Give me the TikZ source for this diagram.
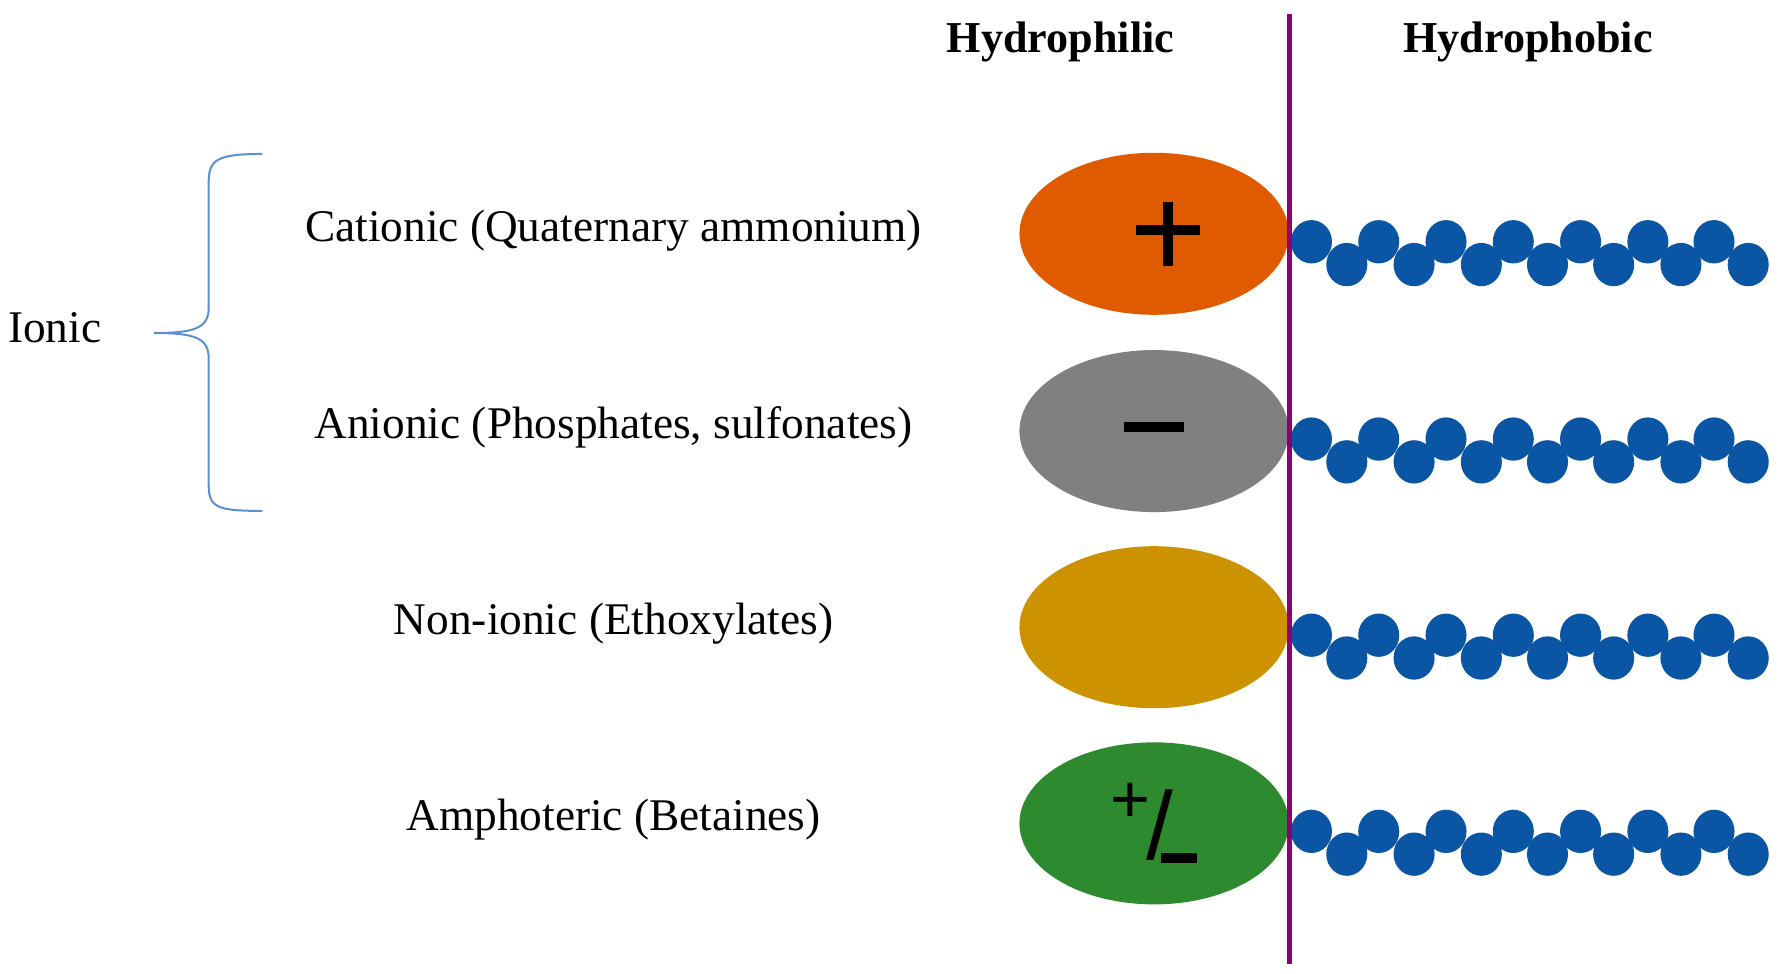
\documentclass[tikz,border=0pt]{standalone}
\usepackage{fontspec}
\setmainfont{Liberation Serif}
\newfontfamily\symf{Liberation Sans}
\begin{document}
\begin{tikzpicture}[x=0.01cm,y=-0.01cm,
  lab/.style={font=\fontsize{11.3}{13}\selectfont},
  head/.style={font=\bfseries\fontsize{11}{13}\selectfont},
  blob/.style={ellipse,minimum width=2.36cm,minimum height=1.42cm,inner sep=0pt},
  sym/.style={font=\symf\fontsize{24}{26}\selectfont}]
\usetikzlibrary{shapes.geometric}
\definecolor{beadblue}{HTML}{0B56A4}
\definecolor{c1}{HTML}{E05A00}
\definecolor{c2}{HTML}{808080}
\definecolor{c3}{HTML}{CD9200}
\definecolor{c4}{HTML}{2E8A2E}
\definecolor{braceblue}{HTML}{5B8FD0}
\useasboundingbox (0,0) rectangle (1560,854);
\node[head] (hphil) at (930,37) {Hydrophilic};
\node[head] (hphob) at (1340,37) {Hydrophobic};
\coordinate (lt) at (1131,12);
\coordinate (lb) at (1131,845);
\foreach \i/\y/\c/\t in {1/205/c1/{Cationic (Quaternary ammonium)},2/378/c2/{Anionic (Phosphates, sulfonates)},3/550/c3/{Non-ionic (Ethoxylates)},4/722/c4/{Amphoteric (Betaines)}}{
  \node[blob,fill=\c] (e\i) at (1012,\y) {};
  \node[lab] (t\i) at (538,\y-3) {\t};
  \foreach \x in {1150,1209,1268,1327,1386,1445,1503} \fill[beadblue] (\x,\y+7) ellipse [x radius=18,y radius=19];
  \foreach \x in {1181,1240,1299,1357,1415,1474,1533} \fill[beadblue] (\x,\y+27) ellipse [x radius=18,y radius=19];
}
\draw[draw=violet!80!purple,line width=1.2pt] (lt) -- (lb);
\node[sym] (p1) at (e1) {\rule[3.2pt]{16pt}{2.4pt}\hspace{-9.2pt}\rule[-4.6pt]{2.4pt}{16pt}\hspace{6.8pt}};
\node[sym] (p2) at (e2) {\rule[2pt]{15pt}{2.4pt}};
\node[sym] (p4) at (e4) {\raisebox{7pt}{\fontsize{17}{17}\selectfont +}\hspace{-1pt}\raisebox{-2pt}{/}\hspace{-3pt}\rule[-3pt]{9pt}{2.6pt}};
\node[lab] (ionic) at (48,287) {Ionic};
\coordinate (bt) at (230,135);
\coordinate (bb) at (230,448);
\draw[braceblue,line width=0.5pt] (bt) .. controls (190,135) and (183,140) .. (183,160) -- (183,270) .. controls (183,288) and (170,292) .. (135,292) .. controls (170,292) and (183,296) .. (183,314) -- (183,425) .. controls (183,445) and (190,448) .. (bb);
\end{tikzpicture}
\end{document}
